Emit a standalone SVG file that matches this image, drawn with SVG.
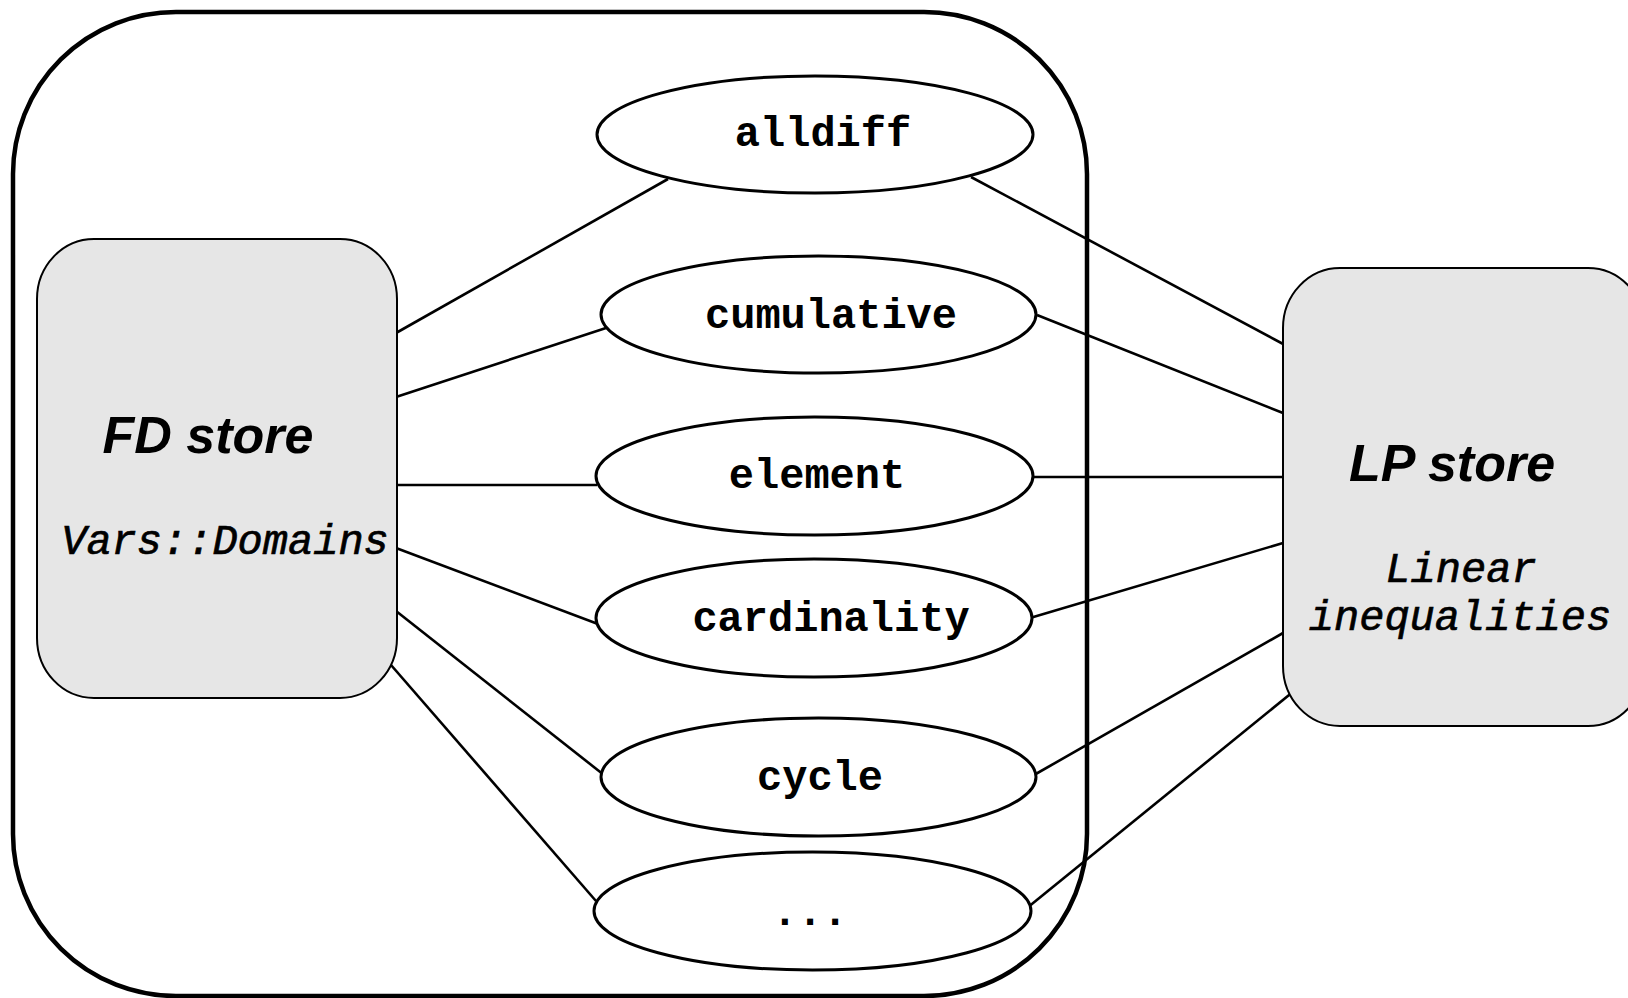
<svg xmlns="http://www.w3.org/2000/svg" width="1628" height="998" viewBox="0 0 1628 998">
<style>
.bg{fill:#ffffff}
.outer{fill:none;stroke:#000;stroke-width:4.5}
.store{fill:#e6e6e6;stroke:#000;stroke-width:2}
.cons{fill:#ffffff;stroke:#000;stroke-width:3}
.conn line{stroke:#000;stroke-width:2.6;fill:none}
.title{font-family:"Liberation Sans",Arial,sans-serif;font-weight:bold;font-style:italic;font-size:52px;fill:#000;text-anchor:middle}
.sub{font-family:"Liberation Mono","Courier New",monospace;font-style:italic;font-size:42px;fill:#000;stroke:#000;stroke-width:0.7;text-anchor:middle}
.lbl{font-family:"Liberation Mono","Courier New",monospace;font-weight:bold;font-size:42px;fill:#000;text-anchor:middle}
</style>
<rect class="bg" x="0" y="0" width="1628" height="998"/>
<g id="container">
<rect class="outer" x="13" y="12" width="1074" height="984" rx="163" ry="162"/>
</g>
<g id="connectors" class="conn">
<line x1="396" y1="333" x2="668" y2="179"/>
<line x1="396" y1="397" x2="606" y2="328"/>
<line x1="396" y1="485" x2="597" y2="485"/>
<line x1="396" y1="548" x2="598" y2="624"/>
<line x1="396" y1="611" x2="604" y2="775"/>
<line x1="391" y1="665" x2="596" y2="901"/>
<line x1="971" y1="177" x2="1285" y2="345"/>
<line x1="1037" y1="315" x2="1283" y2="413"/>
<line x1="1033" y1="477" x2="1283" y2="477"/>
<line x1="1030" y1="618" x2="1283" y2="543"/>
<line x1="1034" y1="775" x2="1283" y2="633"/>
<line x1="1027" y1="908" x2="1294" y2="691"/>
</g>
<g id="fd-store">
<rect class="store" x="37" y="239" width="360" height="459" rx="57" ry="60"/>
<text class="title" x="208" y="453">FD store</text>
<text class="sub" x="225" y="554">Vars::Domains</text>
</g>
<g id="lp-store">
<rect class="store" x="1283" y="268" width="362" height="458" rx="57" ry="60"/>
<text class="title" x="1452" y="481">LP store</text>
<text class="sub" x="1461" y="582">Linear</text>
<text class="sub" x="1460" y="630">inequalities</text>
</g>
<g id="alldiff">
<ellipse class="cons" cx="815" cy="134.5" rx="218" ry="58.5"/>
<text class="lbl" x="823" y="146">alldiff</text>
</g>
<g id="cumulative">
<ellipse class="cons" cx="818.5" cy="314.5" rx="217.5" ry="58.5"/>
<text class="lbl" x="831" y="328">cumulative</text>
</g>
<g id="element">
<ellipse class="cons" cx="814.5" cy="476" rx="218.5" ry="59"/>
<text class="lbl" x="817" y="488">element</text>
</g>
<g id="cardinality">
<ellipse class="cons" cx="814" cy="618" rx="218" ry="59"/>
<text class="lbl" x="831" y="631">cardinality</text>
</g>
<g id="cycle">
<ellipse class="cons" cx="818.5" cy="777" rx="217.5" ry="59"/>
<text class="lbl" x="820" y="790">cycle</text>
</g>
<g id="more">
<ellipse class="cons" cx="812.5" cy="911" rx="218.5" ry="59"/>
<text class="lbl" x="810" y="925">...</text>
</g>
</svg>
